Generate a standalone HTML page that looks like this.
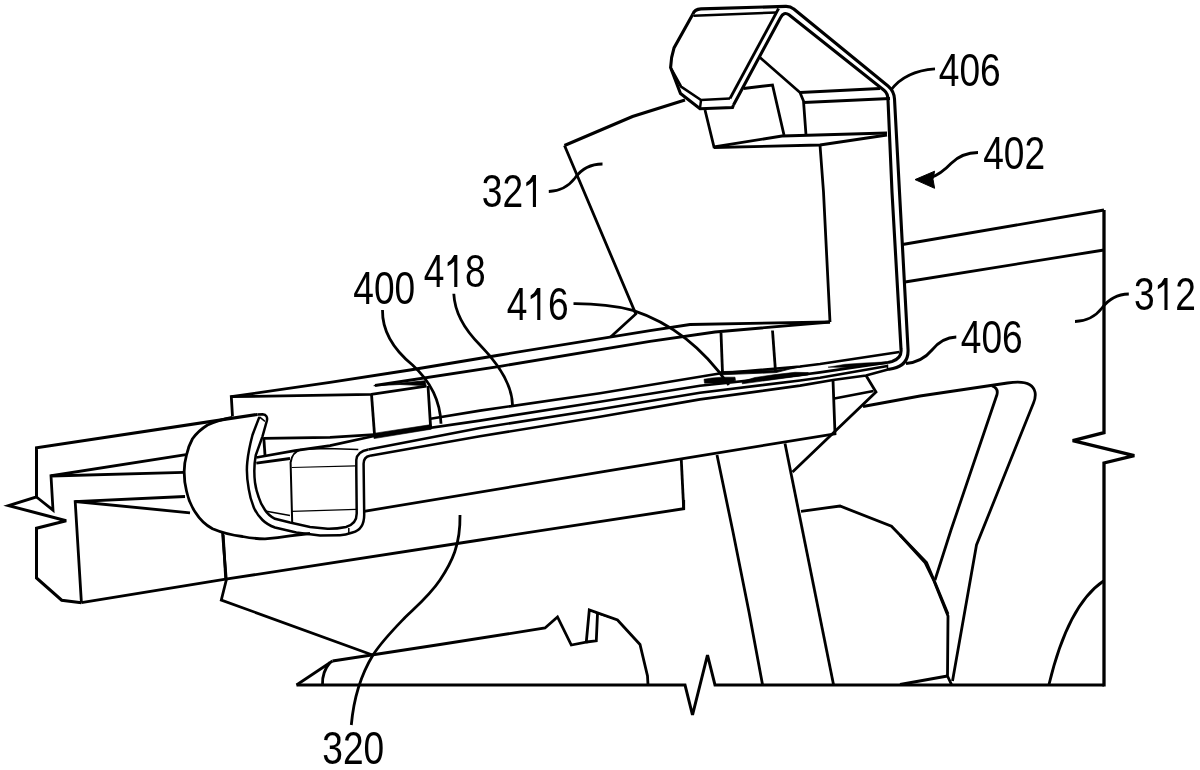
<!DOCTYPE html>
<html><head><meta charset="utf-8"><title>Figure</title>
<style>html,body{margin:0;padding:0;background:#fff;}svg{display:block;}text{font-family:"Liberation Sans",sans-serif;fill:#000;}</style></head>
<body>
<svg width="1200" height="770" viewBox="0 0 1200 770">
<rect width="1200" height="770" fill="#fff"/>
<g stroke="#000" stroke-linejoin="miter" stroke-linecap="butt" fill="none">
<path d="M692.8,14.2 Q694.5,9.3 701,8.9 L785.5,6.4 Q790.5,6.2 793.5,8.8 L888,86 Q894,91 894.5,99 L899.5,192 L908,349 Q909,365 893,368.5 L888,369.5" stroke-width="3.1" fill="none"/>
<path d="M733.5,105 L780.6,17.5 Q783.8,11.2 789,14.8 L884,90.3 Q888,93.5 888,100 L892,192 L901,349 Q902,358.5 892,361.5 L888,362.4" stroke-width="3.1" fill="none"/>
<path d="M778.6,8.5 L730,98.5" stroke-width="2.8" fill="none"/>
<path d="M692.8,14.2 L674,48 Q671,57 670.6,67.5 L680.5,93.5 L700,108.7 L732.5,107.5 L733.5,105" stroke-width="3.1" fill="none"/>
<path d="M693.5,15.7 L776,12.5" stroke-width="2.4" fill="none"/>
<path d="M671.3,69 L681,86.5 L701,100 L730,98.5" stroke-width="2.6" fill="none"/>
<path d="M701,100 L700,108.5" stroke-width="2.4" fill="none"/>
<path d="M564.5,145.5 L632.5,116.5 L685,100" stroke-width="3.1" fill="none"/>
<path d="M564.5,145.5 L635.8,314 L610.6,337" stroke-width="2.8" fill="none"/>
<path d="M705,110 L714,147 L782,136 L887,133" stroke-width="2.8" fill="none"/>
<path d="M714,147.5 L820,145 L887,135" stroke-width="2.8" fill="none"/>
<path d="M820,145 L823.5,192 L830,322" stroke-width="2.8" fill="none"/>
<path d="M743.5,88.5 L772.5,85 L784,135" stroke-width="2.8" fill="none"/>
<path d="M760,57.5 L800,92.5 L803.5,101 L806,135" stroke-width="2.8" fill="none"/>
<path d="M800,92.5 L880,88.5" stroke-width="2.8" fill="none"/>
<path d="M803.5,102.5 L890,98.5" stroke-width="2.8" fill="none"/>
<path d="M830,322 L690,324.5 L650,330.6 L500,355 L410,370 L330,382.3 L231.3,396.7" stroke-width="2.8" fill="none"/>
<path d="M830,322 L715,332 L650,341.3 L500,366.3 L375,385.5" stroke-width="2.8" fill="none"/>
<path d="M721,333 L722.5,373" stroke-width="2.8" fill="none"/>
<path d="M772.5,330.5 L775.5,371.5" stroke-width="2.8" fill="none"/>
<path d="M902.5,244.5 L1104,210" stroke-width="2.8" fill="none"/>
<path d="M905,282 L1104,250" stroke-width="2.8" fill="none"/>
<path d="M1104,210 L1104,432.7 L1072.7,440.7 L1134.3,455.7 L1104,463 L1104,686.5" stroke-width="3.3" fill="none"/>
<path d="M1104,685 L715,685 L707.5,655 L692.5,715 L685,685 L296.5,685" stroke-width="3.0" fill="none"/>
<path d="M430.5,418.8 L480,410.6 L600,393.3 L721,373.2 L800,366.5 L820,364 L899.4,352" stroke-width="2.6" fill="none"/>
<path d="M256.3,457.5 L295,450.6 L330,445.6 L374,436 L480,420.6 L600,401.7 L700,385.8 L800,375 L820,372.4 L888,362.4" stroke-width="2.6" fill="none"/>
<path d="M368.5,449.5 L480,428 L600,409.2 L700,392.8 L800,380.5 L820,377.8 L887.5,366" stroke-width="2.6" fill="none"/>
<path d="M370,455.8 L480,436.3 L600,416.7 L700,399.4 L800,385.6 L833,380 L866,375.5 L888,369.5" stroke-width="2.6" fill="none"/>
<path d="M828,367.2 L845,364.3 L864,363 L886,361.9 L886,363.8 L850,367.4 Z" stroke-width="0.5" fill="#000"/>
<path d="M887.5,364.5 L887.5,369.5" stroke-width="1.5" fill="none"/>
<path d="M368.5,449.5 Q357,451.5 356.3,460 L356.3,470 L356.7,513 Q357,524 346,527 Q336,529 327.5,528.8 L310,526.9 L290,522.5 L275,518.8 Q268.5,515.5 265,510 Q260.5,503.5 258.8,497.5 Q256,490 255,482.5 Q253.3,468 255.8,455 L262.5,436.3 L266.8,421 Q268.3,415 262.5,414.3 L257.5,414.4" stroke-width="2.5" fill="none"/>
<path d="M370,455.8 Q363.5,457 363.6,464 L364.2,514 Q364.5,529.5 352.5,532.5 Q345,535 340,535.2 L320,535.6 L296.3,532.5 L275,527.5 Q267,524.5 262.5,520 Q256.5,514 253.8,507.5 Q250,498 248.7,488.8 Q246,474 247.3,462 Q248.5,450 252.5,435 L259.4,416.9" stroke-width="2.5" fill="none"/>
<path d="M259.4,416.9 L265,421.3" stroke-width="1.5" fill="none"/>
<path d="M348.8,528 L348.8,533" stroke-width="1.5" fill="none"/>
<path d="M720.5,371.6 L776,370.2 L808,365.5 L790,369 L776,372.6 L720.5,374.8 Z" stroke-width="0.8" fill="#000"/>
<path d="M704,379.3 L712,378 L722,377.2 L735,377.2 L735.5,380.6 L727,383 L704.5,383.2 Z" stroke-width="0.6" fill="#000"/>
<path d="M742.3,381.3 L755,377.5 L775,374.6 L795,372.3 L808.3,372.6 L808.3,374.9 L742.3,383.8 Z" stroke-width="0.6" fill="#000"/>
<path d="M232.5,416.3 L231.3,396.7 L371.3,394.4 L426.5,386.2" stroke-width="2.8" fill="none"/>
<path d="M371.5,394.4 L374.5,434.5" stroke-width="2.8" fill="none"/>
<path d="M428,386 L430.6,427" stroke-width="2.8" fill="none"/>
<path d="M373.5,433.4 L431,424.6 L431.3,429.2 L374,438.6 Z" stroke-width="0.6" fill="#000"/>
<path d="M373.75,385.7 L425,380.8 L426,385.6 L400,384.5 Z" stroke-width="0.8" fill="#000"/>
<path d="M833,380 L835,433.8 L620,468.8 L364,511.3" stroke-width="2.8" fill="none"/>
<path d="M866,375.5 L876,392 L792.5,472" stroke-width="2.8" fill="none"/>
<path d="M834.4,398.5 L873.5,391" stroke-width="2.8" fill="none"/>
<path d="M863,406.5 L920,396 L1007.5,383 Q1032,379 1035,392 Q1036,397 1033.5,403 L976.5,545 L952.5,681" stroke-width="2.8" fill="none"/>
<path d="M992,386 Q998.5,388 997,394.5 L951,530 L935,580" stroke-width="2.8" fill="none"/>
<path d="M900,535 L925,562.5 L934,581 L948,616 L947.5,676 L951.5,684.5" stroke-width="2.8" fill="none"/>
<path d="M947.5,676 L900,684.5" stroke-width="2.8" fill="none"/>
<path d="M1103.5,581 Q1068,605 1049,684.5" stroke-width="2.8" fill="none"/>
<path d="M717,455 L733,532 L749,612 L762.5,684.5" stroke-width="2.8" fill="none"/>
<path d="M785,443.5 L833.5,684.5" stroke-width="2.8" fill="none"/>
<path d="M681.3,460 L683.7,508.7" stroke-width="2.8" fill="none"/>
<path d="M81.4,602.7 L225.7,579.2 L480,540 L683.7,508.7 L683.7,500" stroke-width="2.8" fill="none"/>
<path d="M801,511.3 L840,506 L891.5,526.3 L926.5,562.5 L935,582.5 L948,614" stroke-width="2.8" fill="none"/>
<path d="M332.5,661 L440,644.5 L545,628 L557.5,617 L571.3,645 L586.3,642 L589.3,610 L617.5,620 L640,644.5 L647.5,676 L648,685" stroke-width="2.8" fill="none"/>
<path d="M586.3,642 L596.3,640.8 L597.5,613.5" stroke-width="2.8" fill="none"/>
<path d="M589.3,610 L617.5,620 L597.5,613.8 Z" stroke-width="1" fill="#000"/>
<path d="M296.5,685 L332.5,661" stroke-width="2.8" fill="none"/>
<path d="M330,662.5 Q322,672 322.5,684.5" stroke-width="2.8" fill="none"/>
<path d="M222.5,532.5 L226.3,580 L221.3,600 L372.5,655" stroke-width="2.8" fill="none"/>
<path d="M257.5,414.4 L36.5,447.8 L36.5,497 L8.7,505.6 L66.2,520.8 L36.5,528.2 L36.5,578 L61.7,600.2 L81.4,602.7" stroke-width="3.0" fill="none"/>
<path d="M36.5,497 L53,510.2 L51,475.8 L186,454.7" stroke-width="2.8" fill="none"/>
<path d="M51,476 L184,472.4" stroke-width="2.8" fill="none"/>
<path d="M185,496.5 L75.2,501.5 L81.4,602.7" stroke-width="2.8" fill="none"/>
<path d="M75.2,501.5 L190,512.8" stroke-width="2.8" fill="none"/>
<path d="M223.2,534.8 L225.7,579.2" stroke-width="2.8" fill="none"/>
<path d="M232,417.3 Q218,420 207.5,425 Q198,431 192.5,438.8 Q188.5,446 186.5,455 Q184,464 184.2,472.5 Q184.2,482 186.5,491 Q189,503 195.5,512.5 Q202,523 212.5,528.8 Q226,534.5 242.5,536.5 Q254,538.8 265,538.8 Q278,538 290,535.8 L310,533.5" stroke-width="2.8" fill="none"/>
<path d="M263.2,438.3 L330,437.4 L374,434.6" stroke-width="2.8" fill="none"/>
<path d="M263.8,438 L265,455" stroke-width="2.8" fill="none"/>
<path d="M256.3,463.1 L290,458.5" stroke-width="2.8" fill="none"/>
<path d="M301.3,449.4 Q292,452 290.6,462.5 L292.2,522.8" stroke-width="2" fill="none"/>
<path d="M301.3,449.4 L326.7,448.5 L358.3,449.5" stroke-width="1.5" fill="none"/>
<path d="M291.7,467.5 L355.8,465.8" stroke-width="1.2" fill="none"/>
<path d="M291.9,511.3 L356.3,509.4" stroke-width="1.2" fill="none"/>
<path d="M265,511 L290,515.6" stroke-width="1.5" fill="none"/>
<path d="M891,90 Q905,71 935,68.8" stroke-width="2.8" fill="none"/>
<path d="M978,152.5 Q962,152.5 951,163.5 Q941,174 930,178" stroke-width="2.8" fill="none"/>
<path d="M915,179.6 L934.6,171.2 L933,179.3 L934.6,188.3 Z" stroke-width="1" fill="#000"/>
<path d="M548.8,191.5 Q565,191 575,178 Q585,164 602.5,164" stroke-width="2.8" fill="none"/>
<path d="M573.5,303.7 Q606,303.5 633,310.3 Q690,329 728.8,385" stroke-width="2.8" fill="none"/>
<path d="M906,363.5 Q922,362 932,350 Q942,337.5 956.3,337" stroke-width="2.8" fill="none"/>
<path d="M1075,321.5 Q1092,321 1102,308 Q1112,294.5 1128.8,294" stroke-width="2.8" fill="none"/>
<path d="M382.5,310 Q382,340 412.5,365 Q440,390 441,423.8" stroke-width="2.8" fill="none"/>
<path d="M453.8,293.8 Q455,320 480,345 Q512,378 512.5,405" stroke-width="2.8" fill="none"/>
<path d="M460,515 C460.5,545 452,562 440,580 C430,595 418,605 405,617.5 C392,631 382,641 373,655 C362,673 354,695 351.3,725" stroke-width="2.8" fill="none"/>
</g>
<g style="filter:grayscale(1)">
<text transform="translate(938.80,86.00) scale(0.8,1)" font-size="46.4">4</text>
<text transform="translate(959.44,86.00) scale(0.8,1)" font-size="46.4">0</text>
<text transform="translate(980.08,86.00) scale(0.8,1)" font-size="46.4">6</text>
<text transform="translate(983.20,168.80) scale(0.8,1)" font-size="46.4">4</text>
<text transform="translate(1003.84,168.80) scale(0.8,1)" font-size="46.4">0</text>
<text transform="translate(1024.48,168.80) scale(0.8,1)" font-size="46.4">2</text>
<text transform="translate(481.80,207.00) scale(0.8,1)" font-size="46.4">3</text>
<text transform="translate(502.44,207.00) scale(0.8,1)" font-size="46.4">2</text>
<path d="M535.98,207.00 L535.98,175.00 L532.58,175.00 L532.58,175.30 Q530.38,180.20 526.28,182.60 L526.28,186.30 Q530.08,184.60 532.88,181.60 L532.88,207.00 Z" fill="#000"/>
<text transform="translate(1134.00,310.00) scale(0.8,1)" font-size="46.4">3</text>
<path d="M1167.54,310.00 L1167.54,278.00 L1164.14,278.00 L1164.14,278.30 Q1161.94,283.20 1157.84,285.60 L1157.84,289.30 Q1161.64,287.60 1164.44,284.60 L1164.44,310.00 Z" fill="#000"/>
<text transform="translate(1175.28,310.00) scale(0.8,1)" font-size="46.4">2</text>
<text transform="translate(960.80,353.30) scale(0.8,1)" font-size="46.4">4</text>
<text transform="translate(981.44,353.30) scale(0.8,1)" font-size="46.4">0</text>
<text transform="translate(1002.08,353.30) scale(0.8,1)" font-size="46.4">6</text>
<text transform="translate(353.30,303.80) scale(0.8,1)" font-size="46.4">4</text>
<text transform="translate(373.94,303.80) scale(0.8,1)" font-size="46.4">0</text>
<text transform="translate(394.58,303.80) scale(0.8,1)" font-size="46.4">0</text>
<text transform="translate(423.80,287.00) scale(0.8,1)" font-size="46.4">4</text>
<path d="M457.34,287.00 L457.34,255.00 L453.94,255.00 L453.94,255.30 Q451.74,260.20 447.64,262.60 L447.64,266.30 Q451.44,264.60 454.24,261.60 L454.24,287.00 Z" fill="#000"/>
<text transform="translate(465.08,287.00) scale(0.8,1)" font-size="46.4">8</text>
<text transform="translate(506.80,320.00) scale(0.8,1)" font-size="46.4">4</text>
<path d="M540.34,320.00 L540.34,288.00 L536.94,288.00 L536.94,288.30 Q534.74,293.20 530.64,295.60 L530.64,299.30 Q534.44,297.60 537.24,294.60 L537.24,320.00 Z" fill="#000"/>
<text transform="translate(548.08,320.00) scale(0.8,1)" font-size="46.4">6</text>
<text transform="translate(322.30,763.80) scale(0.8,1)" font-size="46.4">3</text>
<text transform="translate(342.94,763.80) scale(0.8,1)" font-size="46.4">2</text>
<text transform="translate(363.58,763.80) scale(0.8,1)" font-size="46.4">0</text>
</g>
</svg>
</body></html>
